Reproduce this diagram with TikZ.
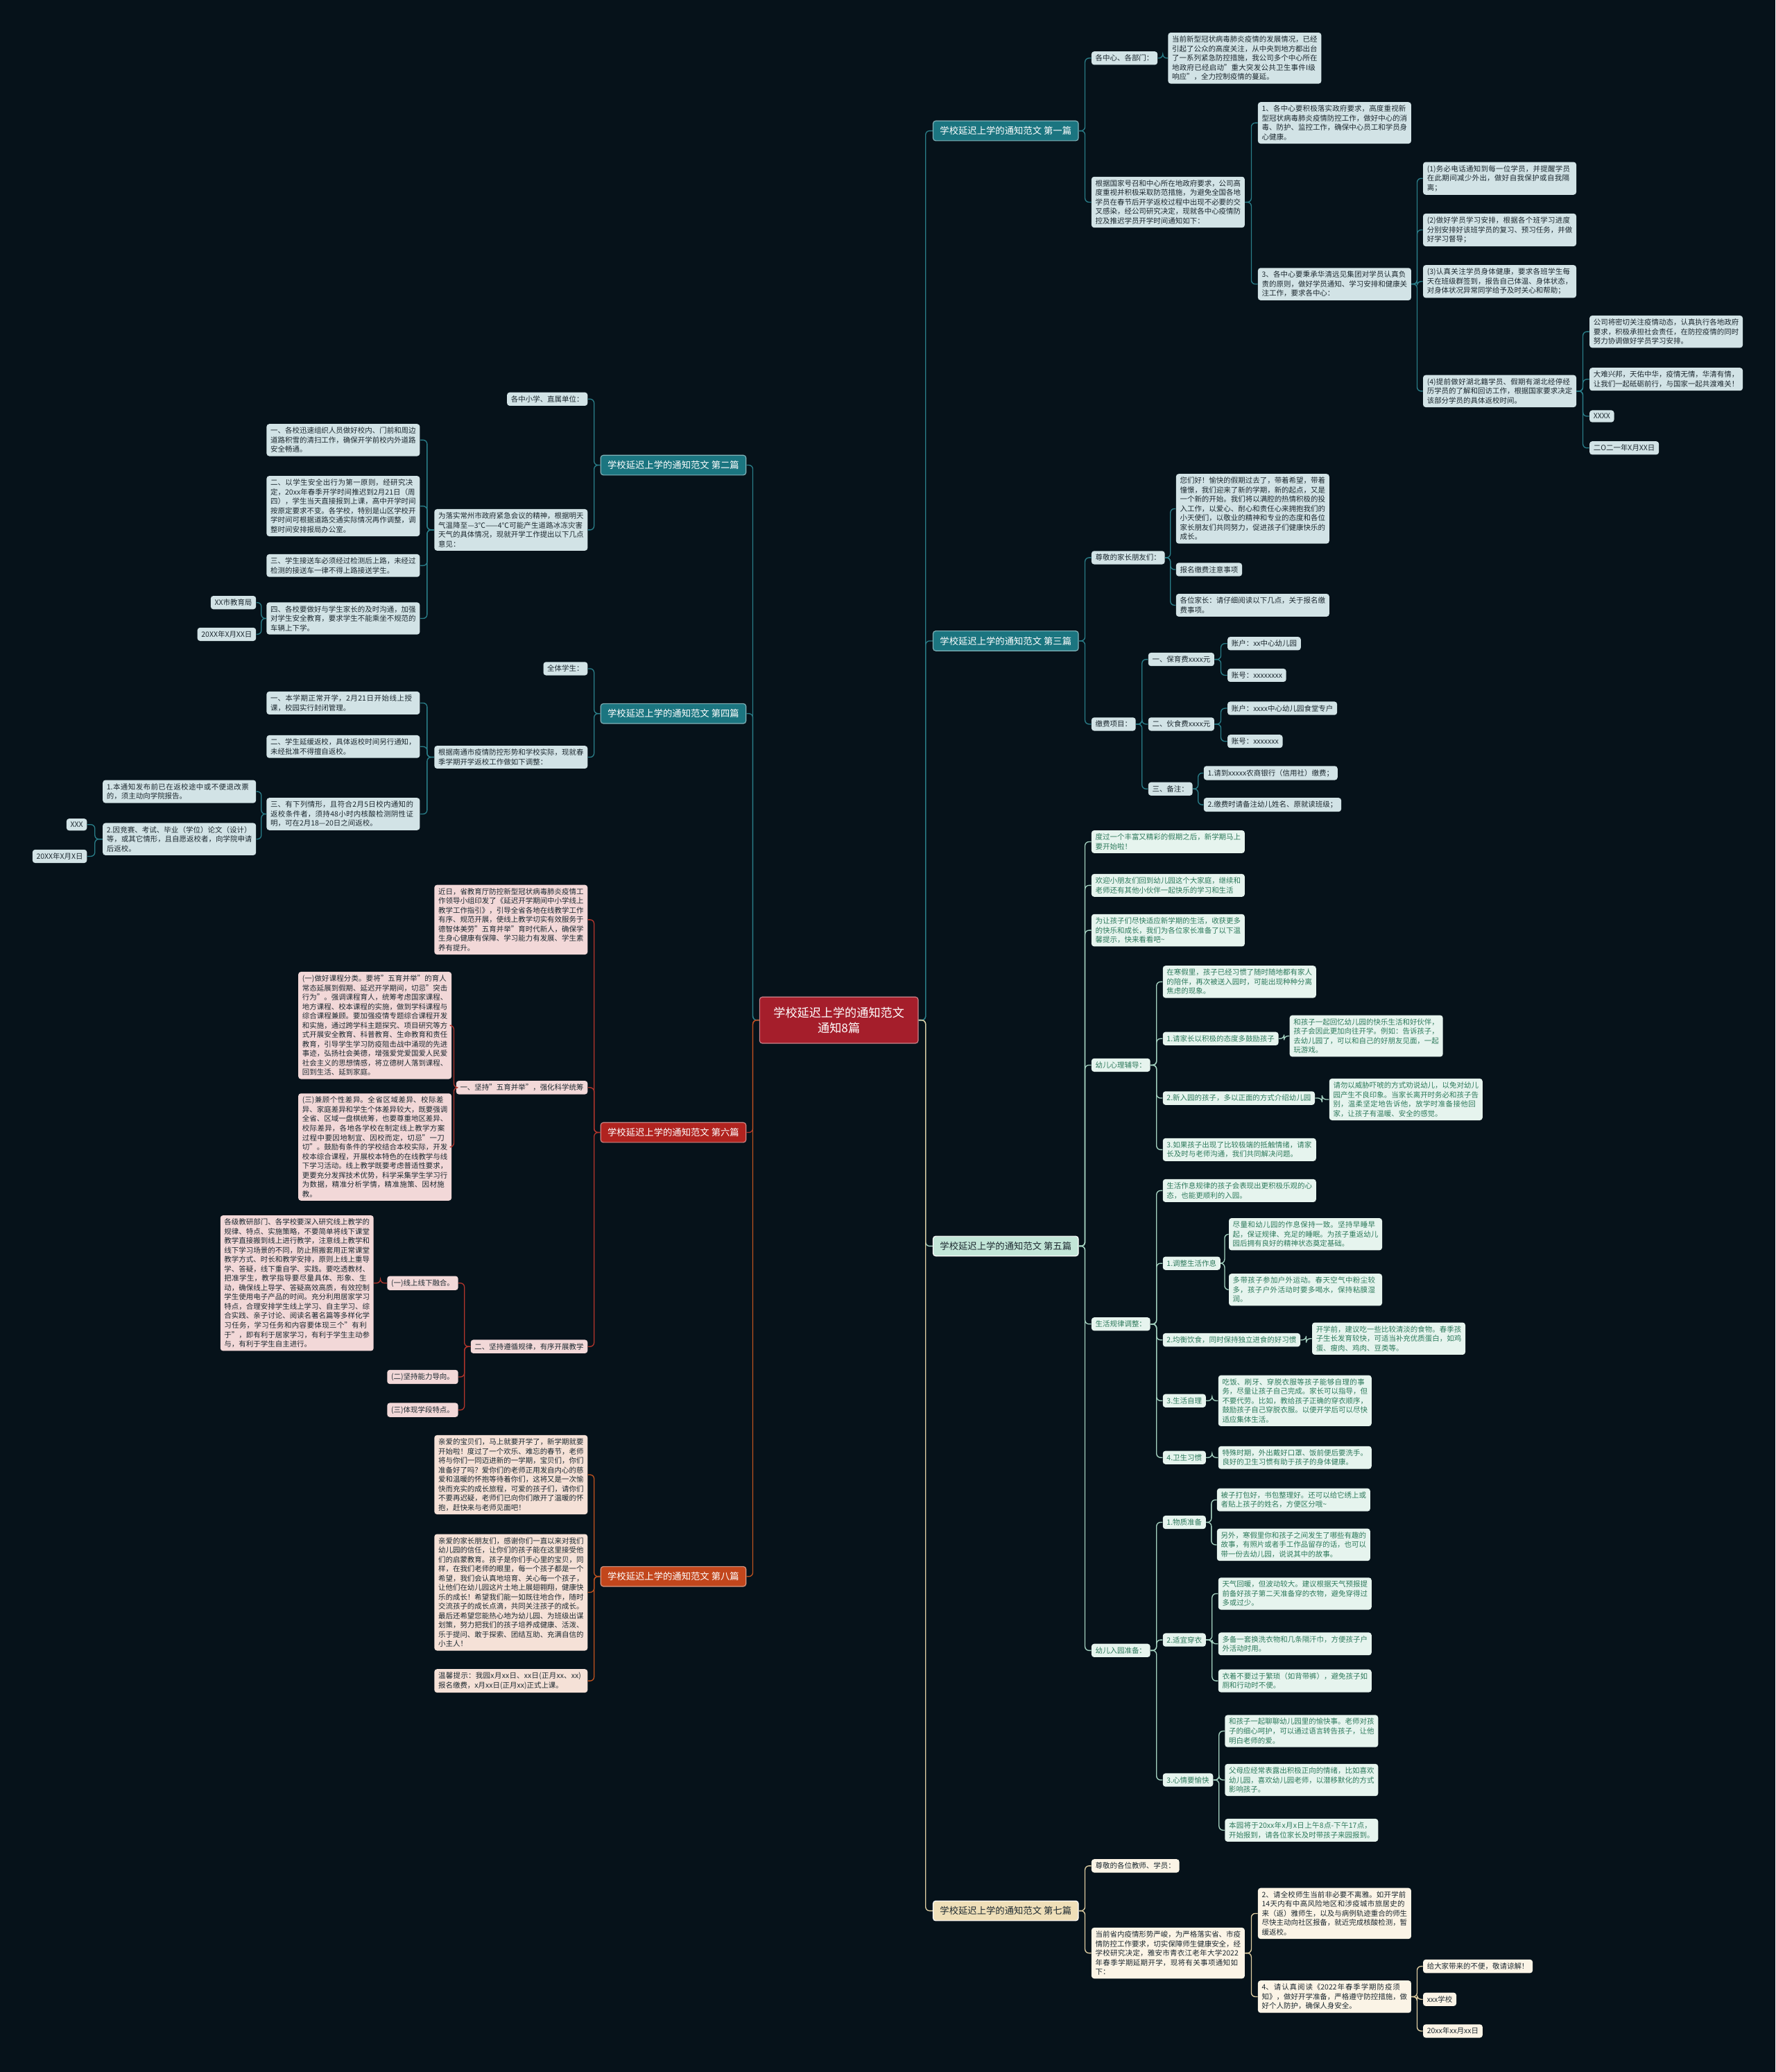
\documentclass[tikz,border=0pt]{standalone}
\usepackage{fontspec}
\setmainfont{Noto Sans CJK SC}
\usepackage{tikz}
\usetikzlibrary{calc}
\XeTeXlinebreaklocale "zh"
\XeTeXlinebreakskip=0pt plus 1pt

\definecolor{bg}{HTML}{06121A}
\definecolor{rootred}{HTML}{A51E2B}
\definecolor{tealbox}{HTML}{1B7580}
\definecolor{tealline}{HTML}{2A7E89}
\definecolor{tealleaf}{HTML}{D2E3E6}
\definecolor{ink}{HTML}{1D2930}
\definecolor{mintbox}{HTML}{C3E6D8}
\definecolor{mintleaf}{HTML}{E6F4EE}
\definecolor{mintink}{HTML}{2E7A5C}
\definecolor{mintline}{HTML}{A6D4C2}
\definecolor{redbox}{HTML}{B0231F}
\definecolor{redleaf}{HTML}{F2D8D8}
\definecolor{redline}{HTML}{B2352C}
\definecolor{orbox}{HTML}{C2461C}
\definecolor{orleaf}{HTML}{F5E1D7}
\definecolor{orline}{HTML}{BE521F}
\definecolor{beigebox}{HTML}{EFDFB8}
\definecolor{beigeleaf}{HTML}{FBF4E6}
\definecolor{beigeline}{HTML}{E0CFA3}

\begin{document}
\begin{tikzpicture}[x=1pt,y=-1pt,
    base/.style={rounded corners=2pt,inner xsep=3pt,inner ysep=2.5pt,
                 font=\fontsize{5.5}{7.1}\selectfont},
    wide/.style={text width=110pt,align=left},
    title/.style={rounded corners=2pt,minimum width=110pt,minimum height=15pt,
                  inner sep=2pt,line width=0.6pt,font=\fontsize{7}{8}\selectfont},
    ttitle/.style={title,fill=tealbox,draw=tealbox!55!white,text=white},
    mtitle/.style={title,fill=mintbox,draw=white,text=ink},
    rtitle/.style={title,fill=redbox,draw=redbox!55!white,text=white},
    otitle/.style={title,fill=orbox,draw=orbox!55!white,text=white},
    btitle/.style={title,fill=beigebox,draw=white,text=ink},
    tl/.style={base,fill=tealleaf,text=ink},
    ml/.style={base,fill=mintleaf,text=mintink},
    rl/.style={base,fill=redleaf,text=ink},
    ol/.style={base,fill=orleaf,text=ink},
    bl/.style={base,fill=beigeleaf,text=ink},
    link/.style={draw=#1,line width=0.7pt,rounded corners=3pt,
      to path={let \p1=(\tikztostart), \p2=(\tikztotarget) in
               -- ({(\x1+\x2)/2},\y1) |- (\tikztotarget) \tikztonodes}},
    tedge/.style={link=tealline},
    medge/.style={link=mintline},
    redge/.style={link=redline},
    oedge/.style={link=orline},
    bedge/.style={link=beigeline}]

\useasboundingbox (0,0) rectangle (1344,1568);
\fill[bg] (0,0) rectangle (1344,1568);

% centre
\node[rounded corners=2pt,fill=rootred,draw=rootred!55!white,line width=0.6pt,
      text=white,align=center,minimum width=120pt,minimum height=35pt,
      font=\fontsize{9}{11.5}\selectfont] (R) at (635,772)
      {学校延迟上学的通知范文\\通知8篇};

% ---- right: 第一篇
\node[ttitle,anchor=west] (P1) at (706,99) {学校延迟上学的通知范文 第一篇};
\node[tl,anchor=west] (P1a) at (826,44) {各中心、各部门：};
\node[tl,wide,anchor=west] (P1a1) at (884,44) {当前新型冠状病毒肺炎疫情的发展情况，已经引起了公众的高度关注，从中央到地方都出台了一系列紧急防控措施，我公司多个中心所在地政府已经启动"重大突发公共卫生事件I级响应"，全力控制疫情的蔓延。};
\node[tl,wide,anchor=west] (P1b) at (826,153) {根据国家号召和中心所在地政府要求，公司高度重视并积极采取防范措施，为避免全国各地学员在春节后开学返校过程中出现不必要的交叉感染，经公司研究决定，现就各中心疫情防控及推迟学员开学时间通知如下：};
\node[tl,wide,anchor=west] (P1b1) at (952,93) {1、各中心要积极落实政府要求，高度重视新型冠状病毒肺炎疫情防控工作，做好中心的消毒、防护、监控工作，确保中心员工和学员身心健康。};
\node[tl,wide,anchor=west] (P1b3) at (952,215) {3、各中心要秉承华清远见集团对学员认真负责的原则，做好学员通知、学习安排和健康关注工作，要求各中心：};
\node[tl,wide,anchor=west] (Q1) at (1077,135) {(1)务必电话通知到每一位学员，并提醒学员在此期间减少外出，做好自我保护或自我隔离；};
\node[tl,wide,anchor=west] (Q2) at (1077,174) {(2)做好学员学习安排，根据各个班学习进度分别安排好该班学员的复习、预习任务，并做好学习督导；};
\node[tl,wide,anchor=west] (Q3) at (1077,213) {(3)认真关注学员身体健康，要求各班学生每天在班级群签到，报告自己体温、身体状态，对身体状况异常同学给予及时关心和帮助；};
\node[tl,wide,anchor=west] (Q4) at (1077,296) {(4)提前做好湖北籍学员、假期有湖北经停经历学员的了解和回访工作，根据国家要求决定该部分学员的具体返校时间。};
\node[tl,wide,anchor=west] (Q4a) at (1203,251) {公司将密切关注疫情动态，认真执行各地政府要求，积极承担社会责任，在防控疫情的同时努力协调做好学员学习安排。};
\node[tl,wide,anchor=west] (Q4b) at (1203,287) {大难兴邦，天佑中华，疫情无情，华清有情，让我们一起砥砺前行，与国家一起共渡难关！};
\node[tl,anchor=west] (Q4c) at (1203,315) {XXXX};
\node[tl,anchor=west] (Q4d) at (1203,339) {二O二一年X月XX日};

% ---- right: 第三篇
\node[ttitle,anchor=west] (P3) at (706,485) {学校延迟上学的通知范文 第三篇};
\node[tl,anchor=west] (P3a) at (826,422) {尊敬的家长朋友们：};
\node[tl,wide,anchor=west] (P3a1) at (890,385) {您们好！愉快的假期过去了，带着希望，带着憧憬，我们迎来了新的学期，新的起点，又是一个新的开始。我们将以满腔的热情积极的投入工作，以爱心、耐心和责任心来拥抱我们的小天使们，以敬业的精神和专业的态度和各位家长朋友们共同努力，促进孩子们健康快乐的成长。};
\node[tl,anchor=west] (P3a2) at (890,431) {报名缴费注意事项};
\node[tl,wide,anchor=west] (P3a3) at (890,458) {各位家长：请仔细阅读以下几点，关于报名缴费事项。};
\node[tl,anchor=west] (P3b) at (826,548) {缴费项目：};
\node[tl,anchor=west] (F1) at (869,499) {一、保育费xxxx元};
\node[tl,anchor=west] (F1a) at (929,487) {账户：xx中心幼儿园};
\node[tl,anchor=west] (F1b) at (929,511) {账号：xxxxxxxx};
\node[tl,anchor=west] (F2) at (869,548) {二、伙食费xxxx元};
\node[tl,anchor=west] (F2a) at (929,536) {账户：xxxx中心幼儿园食堂专户};
\node[tl,anchor=west] (F2b) at (929,561) {账号：xxxxxxx};
\node[tl,anchor=west] (F3) at (869,597) {三、备注：};
\node[tl,anchor=west] (F3a) at (911,585) {1.请到xxxxx农商银行（信用社）缴费；};
\node[tl,anchor=west] (F3b) at (911,609) {2.缴费时请备注幼儿姓名、原就读班级；};

% ---- right: 第五篇
\node[mtitle,anchor=west] (P5) at (706,943) {学校延迟上学的通知范文 第五篇};
\node[ml,wide,anchor=west] (P5a) at (826,637) {度过一个丰富又精彩的假期之后，新学期马上要开始啦！};
\node[ml,wide,anchor=west] (P5b) at (826,670) {欢迎小朋友们回到幼儿园这个大家庭，继续和老师还有其他小伙伴一起快乐的学习和生活};
\node[ml,wide,anchor=west] (P5c) at (826,704) {为让孩子们尽快适应新学期的生活，收获更多的快乐和成长，我们为各位家长准备了以下温馨提示，快来看看吧\textasciitilde};
\node[ml,anchor=west] (P5d) at (826,806) {幼儿心理辅导：};
\node[ml,wide,anchor=west] (X1) at (880,743) {在寒假里，孩子已经习惯了随时随地都有家人的陪伴，再次被送入园时，可能出现种种分离焦虑的现象。};
\node[ml,anchor=west] (X2) at (880,786) {1.请家长以积极的态度多鼓励孩子};
\node[ml,wide,anchor=west] (X2a) at (976,784) {和孩子一起回忆幼儿园的快乐生活和好伙伴，孩子会因此更加向往开学。例如：告诉孩子，去幼儿园了，可以和自己的好朋友见面，一起玩游戏。};
\node[ml,anchor=west] (X3) at (880,831) {2.新入园的孩子，多以正面的方式介绍幼儿园};
\node[ml,wide,anchor=west] (X3a) at (1006,832) {请勿以威胁吓唬的方式劝说幼儿，以免对幼儿园产生不良印象。当家长离开时务必和孩子告别，温柔坚定地告诉他，放学时准备接他回家，让孩子有温暖、安全的感觉。};
\node[ml,wide,anchor=west] (X4) at (880,870) {3.如果孩子出现了比较极端的抵触情绪，请家长及时与老师沟通，我们共同解决问题。};
\node[ml,anchor=west] (P5e) at (826,1002) {生活规律调整：};
\node[ml,wide,anchor=west] (Y1) at (880,901) {生活作息规律的孩子会表现出更积极乐观的心态，也能更顺利的入园。};
\node[ml,anchor=west] (Y2) at (880,956) {1.调整生活作息};
\node[ml,wide,anchor=west] (Y2a) at (930,934) {尽量和幼儿园的作息保持一致。坚持早睡早起，保证规律、充足的睡眠。为孩子重返幼儿园后拥有良好的精神状态奠定基础。};
\node[ml,wide,anchor=west] (Y2b) at (930,976) {多带孩子参加户外运动。春天空气中粉尘较多，孩子户外活动时要多喝水，保持粘膜湿润。};
\node[ml,anchor=west] (Y3) at (880,1014) {2.均衡饮食，同时保持独立进食的好习惯};
\node[ml,wide,anchor=west] (Y3a) at (993,1013) {开学前，建议吃一些比较清淡的食物。春季孩子生长发育较快，可适当补充优质蛋白，如鸡蛋、瘦肉、鸡肉、豆类等。};
\node[ml,anchor=west] (Y4) at (880,1060) {3.生活自理};
\node[ml,wide,anchor=west] (Y4a) at (922,1060) {吃饭、刷牙、穿脱衣服等孩子能够自理的事务，尽量让孩子自己完成。家长可以指导，但不要代劳。比如，教给孩子正确的穿衣顺序，鼓励孩子自己穿脱衣服。以便开学后可以尽快适应集体生活。};
\node[ml,anchor=west] (Y5) at (880,1103) {4.卫生习惯};
\node[ml,wide,anchor=west] (Y5a) at (922,1103) {特殊时期，外出戴好口罩、饭前便后要洗手。良好的卫生习惯有助于孩子的身体健康。};
\node[ml,anchor=west] (P5f) at (826,1249) {幼儿入园准备：};
\node[ml,anchor=west] (Z1) at (880,1152) {1.物质准备};
\node[ml,wide,anchor=west] (Z1a) at (921,1135) {被子打包好，书包整理好。还可以给它绣上或者贴上孩子的姓名，方便区分哦\textasciitilde};
\node[ml,wide,anchor=west] (Z1b) at (921,1169) {另外，寒假里你和孩子之间发生了哪些有趣的故事，有照片或者手工作品留存的话，也可以带一份去幼儿园，说说其中的故事。};
\node[ml,anchor=west] (Z2) at (880,1241) {2.适宜穿衣};
\node[ml,wide,anchor=west] (Z2a) at (922,1206) {天气回暖，但波动较大。建议根据天气预报提前备好孩子第二天准备穿的衣物，避免穿得过多或过少。};
\node[ml,wide,anchor=west] (Z2b) at (922,1244) {多备一套换洗衣物和几条隔汗巾，方便孩子户外活动时用。};
\node[ml,wide,anchor=west] (Z2c) at (922,1272) {衣着不要过于繁琐（如背带裤），避免孩子如厕和行动时不便。};
\node[ml,anchor=west] (Z3) at (880,1347) {3.心情要愉快};
\node[ml,wide,anchor=west] (Z3a) at (927,1310) {和孩子一起聊聊幼儿园里的愉快事。老师对孩子的细心呵护，可以通过语言转告孩子，让他明白老师的爱。};
\node[ml,wide,anchor=west] (Z3b) at (927,1347) {父母应经常表露出积极正向的情绪，比如喜欢幼儿园，喜欢幼儿园老师，以潜移默化的方式影响孩子。};
\node[ml,wide,anchor=west] (Z3c) at (927,1385) {本园将于20xx年x月x日上午8点-下午17点，开始报到，请各位家长及时带孩子来园报到。};

% ---- right: 第七篇
\node[btitle,anchor=west] (P7) at (706,1446) {学校延迟上学的通知范文 第七篇};
\node[bl,anchor=west] (P7a) at (826,1412) {尊敬的各位教师、学员：};
\node[bl,wide,anchor=west] (P7b) at (826,1478) {当前省内疫情形势严峻，为严格落实省、市疫情防控工作要求，切实保障师生健康安全，经学校研究决定，雅安市青衣江老年大学2022年春季学期延期开学，现将有关事项通知如下：};
\node[bl,wide,anchor=west] (P7b1) at (952,1448) {2、请全校师生当前非必要不离雅。如开学前14天内有中高风险地区和涉疫城市旅居史的来（返）雅师生，以及与病例轨迹重合的师生尽快主动向社区报备，就近完成核酸检测，暂缓返校。};
\node[bl,wide,anchor=west] (P7b2) at (952,1511) {4、请认真阅读《2022年春季学期防疫须知》，做好开学准备，严格遵守防控措施，做好个人防护，确保人身安全。};
\node[bl,anchor=west] (W1) at (1077,1488) {给大家带来的不便，敬请谅解！};
\node[bl,anchor=west] (W2) at (1077,1513) {xxx学校};
\node[bl,anchor=west] (W3) at (1077,1537) {20xx年xx月xx日};

% ---- left: 第二篇
\node[ttitle,anchor=east] (P2) at (565,352) {学校延迟上学的通知范文 第二篇};
\node[tl,anchor=east] (P2a) at (445,302) {各中小学、直属单位：};
\node[tl,wide,anchor=east] (P2b) at (445,401) {为落实常州市政府紧急会议的精神，根据明天气温降至—3℃——4℃可能产生道路冰冻灾害天气的具体情况，现就开学工作提出以下几点意见：};
\node[tl,wide,anchor=east] (S1) at (318,333) {一、各校迅速组织人员做好校内、门前和周边道路积雪的清扫工作，确保开学前校内外道路安全畅通。};
\node[tl,wide,anchor=east] (S2) at (318,383) {二、以学生安全出行为第一原则，经研究决定，20xx年春季开学时间推迟到2月21日（周四），学生当天直接报到上课，高中开学时间按原定要求不变。各学校，特别是山区学校开学时间可根据道路交通实际情况再作调整，调整时间安排报局办公室。};
\node[tl,wide,anchor=east] (S3) at (318,428) {三、学生接送车必须经过检测后上路，未经过检测的接送车一律不得上路接送学生。};
\node[tl,wide,anchor=east] (S4) at (318,468) {四、各校要做好与学生家长的及时沟通，加强对学生安全教育，要求学生不能乘坐不规范的车辆上下学。};
\node[tl,anchor=east] (S4a) at (194,456) {XX市教育局};
\node[tl,anchor=east] (S4b) at (194,480) {20XX年X月XX日};

% ---- left: 第四篇
\node[ttitle,anchor=east] (P4) at (565,540) {学校延迟上学的通知范文 第四篇};
\node[tl,anchor=east] (P4a) at (445,506) {全体学生：};
\node[tl,wide,anchor=east] (P4b) at (445,573) {根据南通市疫情防控形势和学校实际，现就春季学期开学返校工作做如下调整：};
\node[tl,wide,anchor=east] (T1) at (318,532) {一、本学期正常开学，2月21日开始线上授课，校园实行封闭管理。};
\node[tl,wide,anchor=east] (T2) at (318,565) {二、学生延缓返校，具体返校时间另行通知，未经批准不得擅自返校。};
\node[tl,wide,anchor=east] (T3) at (318,616) {三、有下列情形，且符合2月5日校内通知的返校条件者，须持48小时内核酸检测阴性证明，可在2月18—20日之间返校。};
\node[tl,wide,anchor=east] (T3a) at (194,599) {1.本通知发布前已在返校途中或不便退改票的，须主动向学院报告。};
\node[tl,wide,anchor=east] (T3b) at (194,635) {2.因竞赛、考试、毕业（学位）论文（设计）等，或其它情形，且自愿返校者，向学院申请后返校。};
\node[tl,anchor=east] (T3b1) at (66,624) {XXX};
\node[tl,anchor=east] (T3b2) at (66,648) {20XX年X月X日};

% ---- left: 第六篇
\node[rtitle,anchor=east] (P6) at (565,857) {学校延迟上学的通知范文 第六篇};
\node[rl,wide,anchor=east] (P6a) at (445,696) {近日，省教育厅防控新型冠状病毒肺炎疫情工作领导小组印发了《延迟开学期间中小学线上教学工作指引》，引导全省各地在线教学工作有序、规范开展，使线上教学切实有效服务于德智体美劳"五育并举"育时代新人，确保学生身心健康有保障、学习能力有发展、学生素养有提升。};
\node[rl,anchor=east] (P6b) at (445,823) {一、坚持"五育并举"，强化科学统筹};
\node[rl,wide,anchor=east] (U1) at (342,776) {(一)做好课程分类。要将"五育并举"的育人常态延展到假期、延迟开学期间，切忌"突击行为"。强调课程育人，统筹考虑国家课程、地方课程、校本课程的实施，做到学科课程与综合课程兼顾。要加强疫情专题综合课程开发和实施，通过跨学科主题探究、项目研究等方式开展安全教育、科普教育、生命教育和责任教育，引导学生学习防疫阻击战中涌现的先进事迹，弘扬社会美德，增强爱党爱国爱人民爱社会主义的思想情感，将立德树人落到课程、回到生活、延到家庭。};
\node[rl,wide,anchor=east] (U2) at (342,868) {(三)兼顾个性差异。全省区域差异、校际差异、家庭差异和学生个体差异较大，既要强调全省、区域一盘棋统筹，也要尊重地区差异、校际差异，各地各学校在制定线上教学方案过程中要因地制宜、因校而定，切忌"一刀切"。鼓励有条件的学校结合本校实际，开发校本综合课程，开展校本特色的在线教学与线下学习活动。线上教学既要考虑普适性要求，更要充分发挥技术优势，科学采集学生学习行为数据，精准分析学情，精准施策、因材施教。};
\node[rl,anchor=east] (P6c) at (445,1019) {二、坚持遵循规律，有序开展教学};
\node[rl,anchor=east] (V1) at (347,971) {(一)线上线下融合。};
\node[rl,wide,anchor=east] (V1a) at (283,971) {各级教研部门、各学校要深入研究线上教学的规律、特点、实施策略，不要简单将线下课堂教学直接搬到线上进行教学，注意线上教学和线下学习场景的不同，防止照搬套用正常课堂教学方式、时长和教学安排，原则上线上重导学、答疑，线下重自学、实践。要吃透教材、把准学生，教学指导要尽量具体、形象、生动，确保线上导学、答疑高效高质，有效控制学生使用电子产品的时间。充分利用居家学习特点，合理安排学生线上学习、自主学习、综合实践、亲子讨论、阅读名著名篇等多样化学习任务，学习任务和内容要体现三个"有利于"，即有利于居家学习，有利于学生主动参与，有利于学生自主进行。};
\node[rl,anchor=east] (V2) at (347,1042) {(二)坚持能力导向。};
\node[rl,anchor=east] (V3) at (347,1067) {(三)体现学段特点。};

% ---- left: 第八篇
\node[otitle,anchor=east] (P8) at (565,1193) {学校延迟上学的通知范文 第八篇};
\node[ol,wide,anchor=east] (P8a) at (445,1116) {亲爱的宝贝们，马上就要开学了，新学期就要开始啦！度过了一个欢乐、难忘的春节，老师将与你们一同迈进新的一学期，宝贝们，你们准备好了吗？爱你们的老师正用发自内心的慈爱和温暖的怀抱等待着你们，这将又是一次愉快而充实的成长旅程，可爱的孩子们，请你们不要再迟疑，老师们已向你们敞开了温暖的怀抱，赶快来与老师见面吧！};
\node[ol,wide,anchor=east] (P8b) at (445,1205) {亲爱的家长朋友们，感谢你们一直以来对我们幼儿园的信任，让你们的孩子能在这里接受他们的启蒙教育。孩子是你们手心里的宝贝，同样，在我们老师的眼里，每一个孩子都是一个希望，我们会认真地培育、关心每一个孩子，让他们在幼儿园这片土地上展翅翱翔，健康快乐的成长！希望我们能一如既往地合作，随时交流孩子的成长点滴，共同关注孩子的成长。最后还希望您能热心地为幼儿园、为班级出谋划策，努力把我们的孩子培养成健康、活泼、乐于提问、敢于探索、团结互助、充满自信的小主人！};
\node[ol,wide,anchor=east] (P8c) at (445,1272) {温馨提示：我园x月xx日、xx日(正月xx、xx)报名缴费，x月xx日(正月xx)正式上课。};

% connectors
\path[tedge] (R.east) edge (P1.west) edge (P3.west);
\path[medge] (R.east) edge (P5.west);
\path[bedge] (R.east) edge (P7.west);
\path[tedge] (R.west) edge (P2.east) edge (P4.east);
\path[redge] (R.west) edge (P6.east);
\path[oedge] (R.west) edge (P8.east);

\path[tedge] (P1.east) edge (P1a.west) edge (P1b.west)
             (P1a.east) edge (P1a1.west)
             (P1b.east) edge (P1b1.west) edge (P1b3.west)
             (P1b3.east) edge (Q1.west) edge (Q2.west) edge (Q3.west) edge (Q4.west)
             (Q4.east) edge (Q4a.west) edge (Q4b.west) edge (Q4c.west) edge (Q4d.west);
\path[tedge] (P3.east) edge (P3a.west) edge (P3b.west)
             (P3a.east) edge (P3a1.west) edge (P3a2.west) edge (P3a3.west)
             (P3b.east) edge (F1.west) edge (F2.west) edge (F3.west)
             (F1.east) edge (F1a.west) edge (F1b.west)
             (F2.east) edge (F2a.west) edge (F2b.west)
             (F3.east) edge (F3a.west) edge (F3b.west);
\path[medge] (P5.east) edge (P5a.west) edge (P5b.west) edge (P5c.west)
                       edge (P5d.west) edge (P5e.west) edge (P5f.west)
             (P5d.east) edge (X1.west) edge (X2.west) edge (X3.west) edge (X4.west)
             (X2.east) edge (X2a.west)
             (X3.east) edge (X3a.west)
             (P5e.east) edge (Y1.west) edge (Y2.west) edge (Y3.west) edge (Y4.west) edge (Y5.west)
             (Y2.east) edge (Y2a.west) edge (Y2b.west)
             (Y3.east) edge (Y3a.west)
             (Y4.east) edge (Y4a.west)
             (Y5.east) edge (Y5a.west)
             (P5f.east) edge (Z1.west) edge (Z2.west) edge (Z3.west)
             (Z1.east) edge (Z1a.west) edge (Z1b.west)
             (Z2.east) edge (Z2a.west) edge (Z2b.west) edge (Z2c.west)
             (Z3.east) edge (Z3a.west) edge (Z3b.west) edge (Z3c.west);
\path[bedge] (P7.east) edge (P7a.west) edge (P7b.west)
             (P7b.east) edge (P7b1.west) edge (P7b2.west)
             (P7b2.east) edge (W1.west) edge (W2.west) edge (W3.west);

\path[tedge] (P2.west) edge (P2a.east) edge (P2b.east)
             (P2b.west) edge (S1.east) edge (S2.east) edge (S3.east) edge (S4.east)
             (S4.west) edge (S4a.east) edge (S4b.east);
\path[tedge] (P4.west) edge (P4a.east) edge (P4b.east)
             (P4b.west) edge (T1.east) edge (T2.east) edge (T3.east)
             (T3.west) edge (T3a.east) edge (T3b.east)
             (T3b.west) edge (T3b1.east) edge (T3b2.east);
\path[redge] (P6.west) edge (P6a.east) edge (P6b.east) edge (P6c.east)
             (P6b.west) edge (U1.east) edge (U2.east)
             (P6c.west) edge (V1.east) edge (V2.east) edge (V3.east)
             (V1.west) edge (V1a.east);
\path[oedge] (P8.west) edge (P8a.east) edge (P8b.east) edge (P8c.east);

\end{tikzpicture}
\end{document}
